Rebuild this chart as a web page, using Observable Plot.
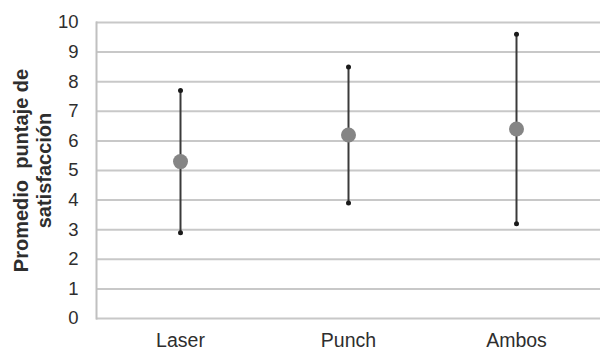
<!DOCTYPE html>
<html>
<head>
<meta charset="utf-8">
<script src="https://cdn.jsdelivr.net/npm/d3@7"></script>
<script src="https://cdn.jsdelivr.net/npm/@observablehq/plot@0.6"></script>
<style>
  html, body { margin: 0; padding: 0; background: #fff; }
  #chart svg { display: block; }
</style>
</head>
<body>
<div id="chart"></div>
<script>
const categories = ["Laser", "Punch", "Ambos"];
const means = [5.3, 6.2, 6.4];
const lows = [2.9, 3.9, 3.2];
const highs = [7.7, 8.5, 9.6];
const yTicks = [0, 1, 2, 3, 4, 5, 6, 7, 8, 9, 10];
const yLabel = "Promedio  puntaje de\nsatisfacción";

const data = categories.map((c, i) => ({cat: c, mean: means[i], low: lows[i], high: highs[i]}));
const ends = data.flatMap(d => [{cat: d.cat, v: d.low}, {cat: d.cat, v: d.high}]);

const chart = Plot.plot({
  width: 601,
  height: 357,
  marginLeft: 96,
  marginRight: 1,
  marginTop: 22,
  marginBottom: 39,
  style: {fontFamily: "Liberation Sans, Arial, sans-serif", background: "#fff", color: "#333"},
  x: {type: "band", domain: categories, padding: 0, label: null},
  y: {domain: [0, 10], label: null},
  marks: [
    Plot.ruleY(yTicks, {stroke: "#c8c8c8", strokeWidth: 2}),
    Plot.frame({anchor: "left", stroke: "#c0c0c0", strokeWidth: 2}),
    Plot.axisY(yTicks, {tickSize: 0, tickPadding: 18, fontSize: 18.5, fill: "#2e2e2e", label: null}),
    Plot.axisX({tickSize: 0, tickPadding: 15, fontSize: 19.5, fill: "#2e2e2e", label: null}),
    Plot.ruleX(data, {x: "cat", y1: "low", y2: "high", stroke: "#3a3a3a", strokeWidth: 2}),
    Plot.dot(ends, {x: "cat", y: "v", r: 2.5, fill: "#1a1a1a"}),
    Plot.dot(data, {x: "cat", y: "mean", r: 7.5, fill: "#858585"}),
    Plot.text([yLabel], {frameAnchor: "left", textAnchor: "middle", rotate: -90, dx: -64, fontSize: 20, fontWeight: "bold", fill: "#2e2e2e", lineHeight: 1.12})
  ]
});
document.getElementById("chart").appendChild(chart);
</script>
</body>
</html>
